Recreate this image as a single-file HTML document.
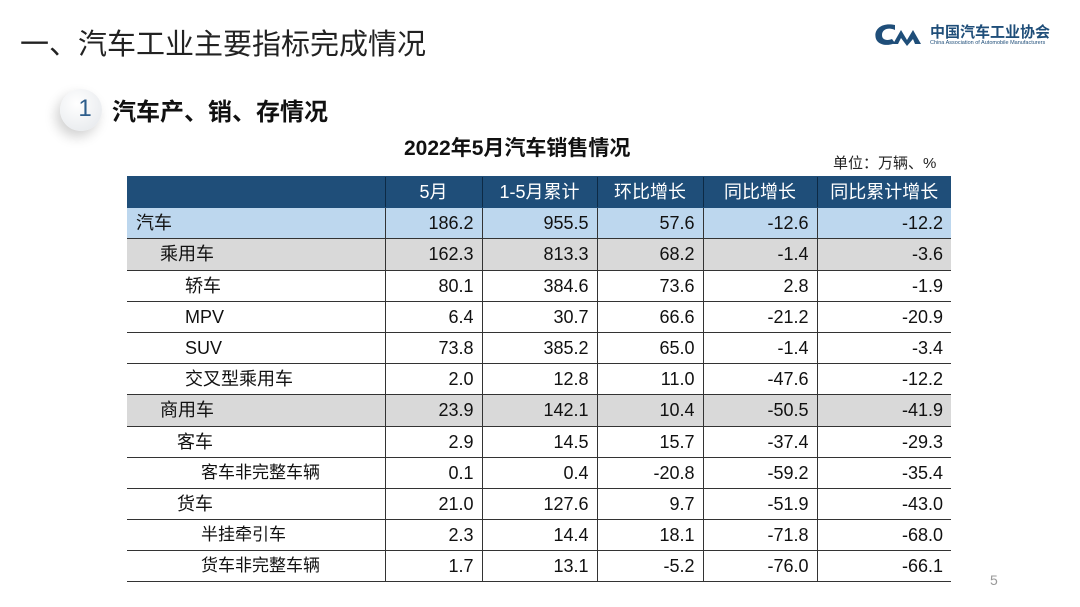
<!DOCTYPE html>
<html><head><meta charset="utf-8">
<style>
*{margin:0;padding:0;box-sizing:border-box}
body{width:1080px;height:607px;background:#fff;position:relative;overflow:hidden;font-family:"Liberation Sans","Noto Sans CJK SC",sans-serif;color:#111}
.abs{position:absolute;white-space:nowrap}
table{position:absolute;left:127px;top:176px;border-collapse:collapse;font-size:18px}
td{height:31.2px;padding:0 8px;border-top:1px solid #333;border-bottom:1px solid #333;line-height:30px}
td+td{border-left:1px solid #333;text-align:right}
tr.h td{background:#1f4e79;color:#fff;text-align:center;border-color:#1f4e79 #444}
tr.h td+td{border-left:1px solid #0d2a45}
tr.b td{background:#bdd7ee}
tr.g td{background:#d9d9d9}
</style></head><body>
<div class="abs" style="left:20px;top:21px;font-size:29px;color:#222">一、汽车工业主要指标完成情况</div>
<div class="abs" style="left:60px;top:89px;width:42px;height:42px;border-radius:50%;background:radial-gradient(circle at 40% 35%,#fff,#e3e6ea);box-shadow:-4px 6px 12px rgba(0,0,0,0.18);font-size:24px;color:#2e5e8c;text-align:center;line-height:40px;padding-left:8px">1</div>
<div class="abs" style="left:112px;top:92px;font-size:24px;font-weight:bold;color:#111">汽车产、销、存情况</div>
<div class="abs" style="left:404px;top:132px;font-size:21px;font-weight:bold">2022年5月汽车销售情况</div>
<div class="abs" style="left:833px;top:152px;font-size:15px;color:#222">单位：万辆、%</div>
<svg class="abs" style="left:873px;top:22px" width="56" height="26" viewBox="0 0 56 26"><path d="M22 3 C8 0 0 8 3 17 C6 24 16 24 22 21 L19 17 C14 19 9 18 9 13 C9 7 16 5 22 8 Z" fill="#1f4e79"/><path d="M20 22 L28 8 L34 18 L40 8 L48 22 L42 22 L40 17 L34 24 L28 16 L25 22 Z" fill="#1f4e79"/></svg>
<div class="abs" style="left:930px;top:21px;font-size:15px;font-weight:bold;color:#1f4e79">中国汽车工业协会</div>
<div class="abs" style="left:930px;top:40px;font-size:5.5px;color:#1f4e79">China Association of Automobile Manufacturers</div>
<table>
<colgroup><col style="width:258px"><col style="width:97px"><col style="width:115px"><col style="width:106px"><col style="width:114px"><col style="width:134px"></colgroup>
<tr class="h"><td></td><td style="text-align:center">5月</td><td style="text-align:center">1-5月累计</td><td style="text-align:center">环比增长</td><td style="text-align:center">同比增长</td><td style="text-align:center">同比累计增长</td></tr>
<tr class="b"><td style="padding-left:9px">汽车</td><td>186.2</td><td>955.5</td><td>57.6</td><td>-12.6</td><td>-12.2</td></tr>
<tr class="g"><td style="padding-left:33px">乘用车</td><td>162.3</td><td>813.3</td><td>68.2</td><td>-1.4</td><td>-3.6</td></tr>
<tr><td style="padding-left:58px">轿车</td><td>80.1</td><td>384.6</td><td>73.6</td><td>2.8</td><td>-1.9</td></tr>
<tr><td style="padding-left:58px">MPV</td><td>6.4</td><td>30.7</td><td>66.6</td><td>-21.2</td><td>-20.9</td></tr>
<tr><td style="padding-left:58px">SUV</td><td>73.8</td><td>385.2</td><td>65.0</td><td>-1.4</td><td>-3.4</td></tr>
<tr><td style="padding-left:58px">交叉型乘用车</td><td>2.0</td><td>12.8</td><td>11.0</td><td>-47.6</td><td>-12.2</td></tr>
<tr class="g"><td style="padding-left:33px">商用车</td><td>23.9</td><td>142.1</td><td>10.4</td><td>-50.5</td><td>-41.9</td></tr>
<tr><td style="padding-left:50px">客车</td><td>2.9</td><td>14.5</td><td>15.7</td><td>-37.4</td><td>-29.3</td></tr>
<tr><td style="padding-left:74px;font-size:17px">客车非完整车辆</td><td>0.1</td><td>0.4</td><td>-20.8</td><td>-59.2</td><td>-35.4</td></tr>
<tr><td style="padding-left:50px">货车</td><td>21.0</td><td>127.6</td><td>9.7</td><td>-51.9</td><td>-43.0</td></tr>
<tr><td style="padding-left:74px;font-size:17px">半挂牵引车</td><td>2.3</td><td>14.4</td><td>18.1</td><td>-71.8</td><td>-68.0</td></tr>
<tr><td style="padding-left:74px;font-size:17px">货车非完整车辆</td><td>1.7</td><td>13.1</td><td>-5.2</td><td>-76.0</td><td>-66.1</td></tr>
</table>
<div class="abs" style="left:990px;top:572px;font-size:14px;color:#999">5</div>
</body></html>
